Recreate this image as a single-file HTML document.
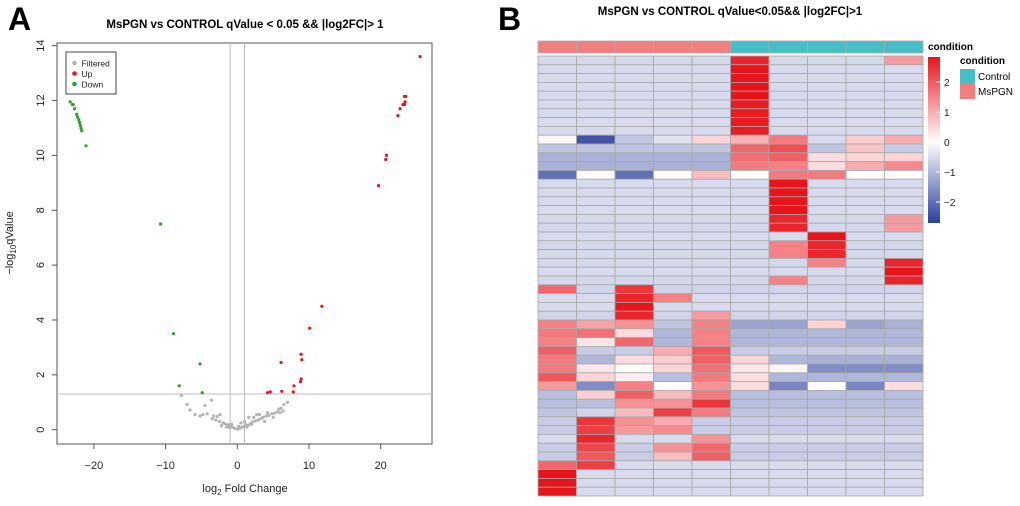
<!DOCTYPE html>
<html><head><meta charset="utf-8"><style>
body{margin:0;background:#fff;width:1020px;height:501px;overflow:hidden;font-family:"Liberation Sans",Arial,sans-serif}
</style></head><body>
<svg id="svg" width="1020" height="501" xmlns="http://www.w3.org/2000/svg" font-family="Liberation Sans, Arial, sans-serif">
<text x="8" y="30" font-size="32" font-weight="bold">A</text>
<text x="498" y="30" font-size="32" font-weight="bold">B</text>
<text x="245" y="28" font-size="11.5" font-weight="bold" text-anchor="middle">MsPGN vs CONTROL qValue &lt; 0.05 &amp;&amp; |log2FC|&gt; 1</text>
<text x="730" y="15" font-size="11.5" font-weight="bold" text-anchor="middle">MsPGN vs CONTROL qValue&lt;0.05&amp;&amp; |log2FC|&gt;1</text>
<g id="volcano"></g>
<g id="heat"></g>
<text x="928" y="50" font-size="10" font-weight="bold">condition</text>
<defs><linearGradient id="cg" x1="0" y1="1" x2="0" y2="0">
<stop offset="0" stop-color="#2B3F9C"/><stop offset="0.49" stop-color="#ffffff"/><stop offset="1" stop-color="#E8141C"/></linearGradient></defs>
<rect x="928" y="57" width="12" height="166" fill="url(#cg)"/>
<g id="cbticks" font-size="10" fill="#222"></g>
<text x="960" y="64" font-size="10" font-weight="bold">condition</text>
<rect x="960" y="69" width="15" height="15" fill="#45BEC6"/>
<text x="978" y="80" font-size="10">Control</text>
<rect x="960" y="84" width="15" height="15" fill="#F08080"/>
<text x="978" y="95" font-size="10">MsPGN</text>
</svg>
<script>
const NS="http://www.w3.org/2000/svg";
const xTicks=[-20,-10,0,10,20];
const yTicks=[0,2,4,6,8,10,12,14];
const upX=[25.5,23.3,23.5,23.1,23.3,23.4,22.7,22.4,20.8,20.7,19.7,11.8,10.1,8.9,9.0,6.1,8.9,8.8,7.9,6.2,7.8,4.2,4.6];
const upY=[13.6,12.15,12.15,11.85,11.85,11.95,11.7,11.45,10.0,9.85,8.9,4.5,3.7,2.75,2.55,2.45,1.85,1.75,1.6,1.4,1.38,1.35,1.38];
const downX=[-23.3,-23.0,-22.9,-22.7,-22.4,-22.3,-22.1,-22.0,-21.9,-21.8,-21.7,-21.1,-10.7,-8.9,-5.2,-8.1,-4.9];
const downY=[11.95,11.85,11.85,11.7,11.5,11.4,11.3,11.2,11.1,11.0,10.9,10.35,7.5,3.5,2.4,1.6,1.35];
const filtX=[-7.8,-3.6,-7,-4.5,-6.6,-5.9,-5.2,-4.8,-4.2,-3.3,-2.4,-2.8,-3.5,-3,-2.5,-2,-1.7,-1.3,-1,-0.7,-0.4,0,0.3,0.6,0.9,1.2,1.5,1.8,2.1,2.5,2.3,2.9,3.3,3.6,4,4.4,4.8,5.2,5.6,6,6.4,5.8,6.1,4.2,3.1,2.7,1.6,6.5,7,-1.5,-0.8,0.5,1,-2.2,-1.1,0.2,1.3,2.0,3.8,5.0];
const filtY=[1.25,1.08,0.92,0.88,0.72,0.55,0.5,0.55,0.58,0.5,0.55,0.48,0.4,0.35,0.3,0.25,0.22,0.18,0.15,0.1,0.05,0.02,0.05,0.08,0.12,0.18,0.15,0.22,0.28,0.32,0.45,0.35,0.4,0.45,0.5,0.52,0.58,0.6,0.65,0.62,0.68,0.75,0.78,0.62,0.55,0.55,0.45,0.92,1.0,0.1,0.2,0.25,0.3,0.15,0.08,0.12,0.1,0.2,0.3,0.45];
const X0=57,X1=432,Y0=43,Y1=444;
const sx=v=>237.3+v*7.17, sy=v=>429.7-v*27.43;
const vg=document.getElementById('volcano');
function mk(tag,at,parent){const e=document.createElementNS(NS,tag);for(const k in at)e.setAttribute(k,at[k]);(parent||vg).appendChild(e);return e;}
let r=mk('rect',{x:X0,y:Y0,width:X1-X0,height:Y1-Y0,fill:'none',stroke:'#555','stroke-width':1});


[[sx(-1),Y0,sx(-1),Y1],[sx(1),Y0,sx(1),Y1],[X0,sy(1.3),X1,sy(1.3)]].forEach(l=>{const e=mk('line',{x1:l[0],y1:l[1],x2:l[2],y2:l[3],stroke:'#bbb','stroke-width':1});

});
xTicks.forEach(t=>{const x=sx(t);mk('line',{x1:x,y1:Y1,x2:x,y2:Y1+5,stroke:'#555'});const e=mk('text',{x:x,y:Y1+25,'font-size':11,'text-anchor':'middle',fill:'#222'});e.textContent=t<0?'\u2212'+(-t):t;

});
yTicks.forEach(t=>{const y=sy(t);mk('line',{x1:X0-5,y1:y,x2:X0,y2:y,stroke:'#555'});const e=mk('text',{x:0,y:0,'font-size':11,'text-anchor':'middle',fill:'#222',transform:`translate(${X0-13},${y}) rotate(-90)`});e.textContent=t;

});
let xt=mk('text',{x:245,y:492,'font-size':11,'text-anchor':'middle',fill:'#222'});xt.innerHTML='log<tspan font-size="8" dy="3">2</tspan><tspan dy="-3"> Fold Change</tspan>';


let yt=mk('text',{x:0,y:0,'font-size':11,'text-anchor':'middle',fill:'#222',transform:'translate(13,243) rotate(-90)'});yt.innerHTML='\u2212log<tspan font-size="8" dy="3">10</tspan><tspan dy="-3">qValue</tspan>';


function pts(xs,ys,col,name){xs.forEach((x,i)=>{const c=mk('circle',{cx:sx(x),cy:sy(ys[i]),r:1.6,fill:col});

});}
pts(filtX,filtY,'#B0B4B4','filtered-point');pts(upX,upY,'#E8141C','up-point');pts(downX,downY,'#2CA02C','down-point');
let lg=mk('rect',{x:66,y:52,width:50,height:42,fill:'#fff',stroke:'#444'});


[['Filtered','#B0B4B4'],['Up','#E8141C'],['Down','#2CA02C']].forEach((d,i)=>{mk('circle',{cx:74.5,cy:63+i*10.5,r:2.3,fill:d[1]});const e=mk('text',{x:81.5,y:66.5+i*10.5,'font-size':8.5,fill:'#222'});e.textContent=d[0];

});

// heatmap
const condition=['MsPGN','MsPGN','MsPGN','MsPGN','MsPGN','Control','Control','Control','Control','Control'];
const B=-0.5;
const heat=[
[-0.55,-0.55,-0.55,-0.55,-0.55,2.6,-0.55,-0.55,-0.55,1.2],
[B,B,B,B,B,2.8,B,B,B,B],[B,B,B,B,B,2.8,B,B,B,B],[B,B,B,B,B,2.8,B,B,B,B],[B,B,B,B,B,2.8,B,B,B,B],
[B,B,B,B,B,2.7,B,B,B,B],[B,B,B,B,B,2.7,B,B,B,B],[B,B,B,B,B,2.7,B,B,B,B],[B,B,B,B,B,2.7,B,B,B,B],
[0.1,-2.4,-0.8,-0.4,0.5,0.9,1.6,-0.5,0.6,1.0],
[-0.8,-0.8,-0.8,-0.8,-0.8,1.8,2.1,-0.8,0.7,-0.7],
[-1.1,-1.1,-1.1,-1.1,-1.1,1.7,1.9,0.4,0.5,0.5],
[-1.1,-1.1,-1.1,-1.1,-1.1,1.6,1.5,0.4,1.0,1.4],
[-2.0,0.02,-2.0,0.02,0.8,0.02,1.6,1.6,0.02,0.05],
[B,B,B,B,B,B,2.8,B,B,B],[B,B,B,B,B,B,2.8,B,B,B],[B,B,B,B,B,B,2.8,B,B,B],[B,B,B,B,B,B,2.8,B,B,B],
[-0.55,-0.55,-0.55,-0.55,-0.55,-0.55,2.6,-0.55,-0.55,1.2],
[-0.55,-0.55,-0.55,-0.55,-0.55,-0.55,2.6,-0.55,-0.55,1.2],
[B,B,B,B,B,B,B,2.8,B,B],
[-0.55,-0.55,-0.55,-0.55,-0.55,-0.55,1.5,2.6,-0.55,-0.55],
[-0.55,-0.55,-0.55,-0.55,-0.55,-0.55,1.5,2.6,-0.55,-0.55],
[-0.55,-0.55,-0.55,-0.55,-0.55,-0.55,-0.55,1.5,-0.55,2.6],
[B,B,B,B,B,B,B,B,B,2.8],
[-0.55,-0.55,-0.55,-0.55,-0.55,-0.55,1.5,-0.55,-0.55,2.6],
[1.8,-0.6,2.4,-0.6,-0.6,-0.6,-0.6,-0.6,-0.6,-0.6],
[-0.5,-0.5,2.6,1.5,-0.5,-0.5,-0.5,-0.5,-0.5,-0.5],
[B,B,2.8,B,B,B,B,B,B,B],
[-0.6,-0.6,2.6,-0.6,1.2,-0.6,-0.6,-0.6,-0.6,-0.6],
[1.5,1.1,1.3,-0.8,1.5,-1.3,-1.3,0.5,-1.3,-1.1],
[1.6,1.7,0.4,-1.0,1.5,-1.0,-1.0,-1.0,-1.0,-1.0],
[1.5,0.3,1.8,-1.0,1.5,-1.0,-1.0,-1.0,-1.0,-1.0],
[1.9,-0.7,-0.7,1.0,2.0,-0.7,-0.7,-0.7,-0.7,-0.7],
[1.6,-1.0,0.4,0.6,1.9,0.5,-1.0,-1.1,-1.1,-1.1],
[1.6,0.3,0.05,0.5,1.7,0.3,0.1,-1.6,-1.6,-1.6],
[2.0,0.5,0.2,-0.9,1.6,0.4,-1.0,-1.0,-1.0,-1.0],
[1.2,-1.6,1.5,0.03,1.3,0.4,-1.7,0.05,-1.7,0.4],
[-0.9,0.6,1.9,0.8,1.6,-0.9,-0.9,-0.9,-0.9,-0.9],
[-0.9,-0.9,1.3,1.3,2.4,-0.9,-0.9,-0.9,-0.9,-0.9],
[-0.8,-0.6,0.8,2.3,1.6,-0.8,-0.8,-0.8,-0.8,-0.8],
[-0.7,2.4,1.3,1.0,-0.7,-0.7,-0.7,-0.7,-0.7,-0.7],
[-0.7,2.3,1.2,1.4,-0.7,-0.7,-0.7,-0.7,-0.7,-0.7],
[-0.5,2.6,-0.5,-0.5,1.3,-0.5,-0.5,-0.5,-0.5,-0.5],
[-0.7,2.2,-0.7,1.3,1.8,-0.7,-0.7,-0.7,-0.7,-0.7],
[-0.7,2.0,-0.7,0.8,1.9,-0.7,-0.7,-0.7,-0.7,-0.7],
[1.8,2.3,-0.5,-0.5,-0.5,-0.5,-0.5,-0.5,-0.5,-0.5],
[2.8,B,B,B,B,B,B,B,B,B],[2.8,B,B,B,B,B,B,B,B,B],[2.8,B,B,B,B,B,B,B,B,B]
];
const cbTicks=[-2,-1,0,1,2];
const VMIN=-2.7,VMAX=2.8;
function lerp(a,b,t){return Math.round(a+(b-a)*t);}
function col(v){if(v>=0){const t=Math.min(v/VMAX,1);return `rgb(${lerp(255,232,t)},${lerp(255,20,t)},${lerp(255,28,t)})`;}
const t=Math.min(v/VMIN,1);return `rgb(${lerp(255,43,t)},${lerp(255,63,t)},${lerp(255,156,t)})`;}
const hg=document.getElementById('heat');
const HX=538,HW=385,HY=56,HH=440,AY=41,AH=12;
const cw=HW/condition.length, rh=HH/heat.length;
condition.forEach((c,j)=>{const e=mk('rect',{x:HX+j*cw,y:AY,width:cw,height:AH,fill:c==='Control'?'#45BEC6':'#F08080',stroke:'#aaa','stroke-width':0.8},hg);

});
heat.forEach((row,i)=>row.forEach((v,j)=>{const e=mk('rect',{x:HX+j*cw,y:HY+i*rh,width:cw,height:rh,fill:col(v),stroke:'#a8a8a8','stroke-width':0.8},hg);

}));
const cg=document.getElementById('cbticks');
const cy=v=>142-v*30;
cbTicks.forEach(t=>{mk('line',{x1:936,y1:cy(t),x2:940,y2:cy(t),stroke:'#fff'},cg);const e=mk('text',{x:944,y:cy(t)+4},cg);e.textContent=t<0?'\u2212'+(-t):t;

});
</script>
</body></html>
